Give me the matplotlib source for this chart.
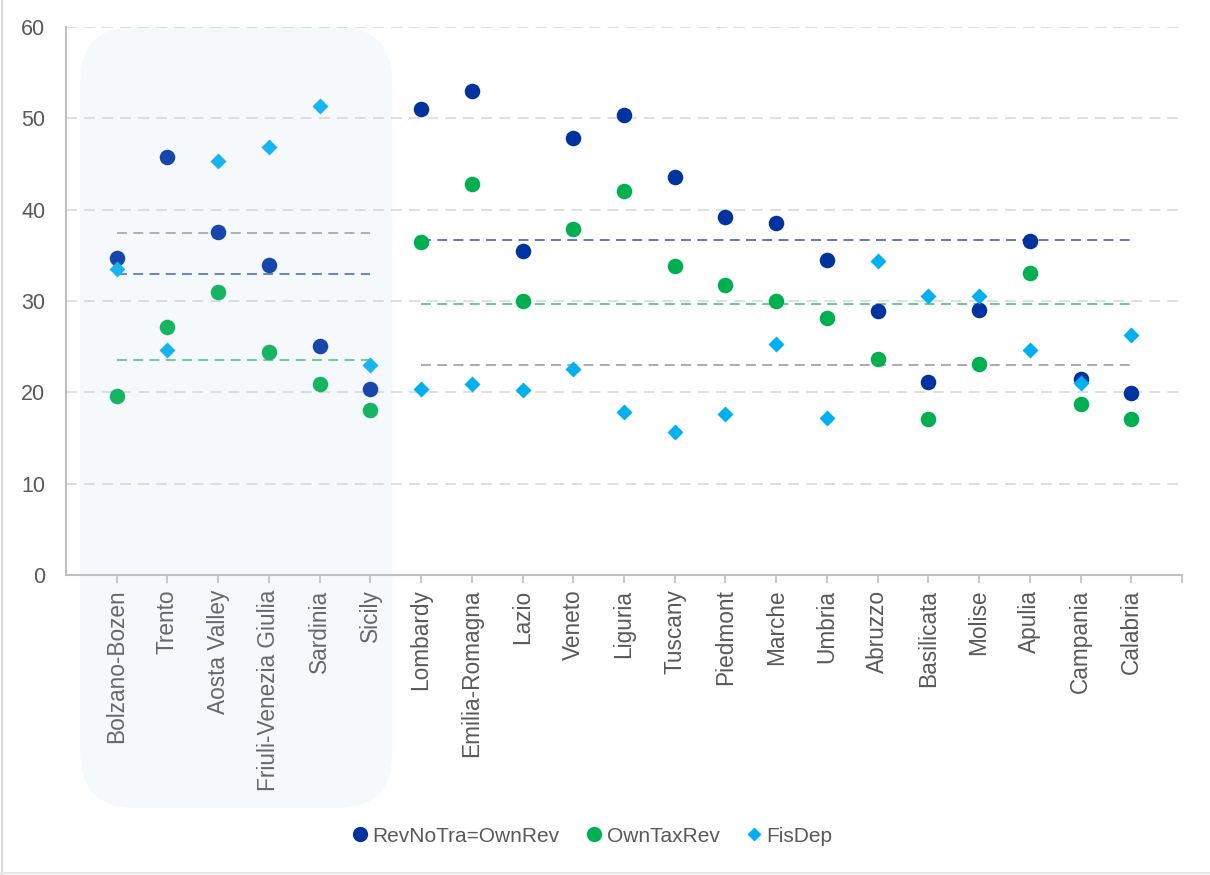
import numpy as np
import matplotlib
matplotlib.use('Agg')
import matplotlib.pyplot as plt
from matplotlib.patches import FancyBboxPatch
from matplotlib.lines import Line2D

plt.rcParams['font.family'] = ['Liberation Sans', 'DejaVu Sans']

# ── Data ──────────────────────────────────────────────────────────────────────
special_regions = ['Bolzano-Bozen', 'Trento', 'Aosta Valley',
                   'Friuli-Venezia Giulia', 'Sardinia', 'Sicily']
ordinary_regions = ['Lombardy', 'Emilia-Romagna', 'Lazio', 'Veneto', 'Liguria',
                    'Tuscany', 'Piedmont', 'Marche', 'Umbria', 'Abruzzo',
                    'Basilicata', 'Molise', 'Apulia', 'Campania', 'Calabria']

rev_no_tra_special  = [34.7, 45.8, 37.6, 33.9, 25.1, 20.4]
own_tax_special     = [19.6, 27.2, 31.0, 24.4, 20.9, 18.1]
fis_dep_special     = [33.5, 24.6, 45.3, 46.9, 51.3, 23.0]

rev_no_tra_ordinary = [51.0, 53.0, 35.5, 47.9, 50.4, 43.6, 39.2, 38.5,
                       34.5, 28.9, 21.1, 29.0, 36.6, 21.5, 19.9]
own_tax_ordinary    = [36.5, 42.8, 30.0, 37.9, 42.0, 33.8, 31.7, 30.0,
                       28.1, 23.7, 17.1, 23.1, 33.1, 18.7, 17.1]
fis_dep_ordinary    = [20.4, 20.9, 20.3, 22.6, 17.9, 15.7, 17.6, 25.3,
                       17.2, 34.4, 30.6, 30.5, 24.6, 21.0, 26.3]

regions = special_regions + ordinary_regions
rev_no_tra = rev_no_tra_special + rev_no_tra_ordinary
own_tax    = own_tax_special + own_tax_ordinary
fis_dep    = fis_dep_special + fis_dep_ordinary

# ── Style ─────────────────────────────────────────────────────────────────────
c_rev  = '#0033A0'
c_tax  = '#00B050'
c_dep  = '#00B0F0'
c_text = '#595959'
c_axis = '#BFBFBF'

fig = plt.figure(figsize=(12.1, 8.75), dpi=100)
ax = fig.add_axes([66 / 1210, 1 - 575 / 875, (1182 - 66) / 1210, (575 - 27) / 875])

x = np.arange(1, len(regions) + 1)
x_sp = x[:len(special_regions)]
x_or = x[len(special_regions):]

# group means as dashed reference lines
for xs, vals in ((x_sp, (rev_no_tra_special, own_tax_special, fis_dep_special)),
                 (x_or, (rev_no_tra_ordinary, own_tax_ordinary, fis_dep_ordinary))):
    for v, col in zip(vals, ('#4A70C8', '#55C98A', '#A5A5A5')):
        ax.plot([xs[0], xs[-1]], [np.mean(v)] * 2, color=col, lw=1.3,
                dashes=(5.5, 3.5), zorder=2)

ax.plot(x, rev_no_tra, 'o', ms=11.2, color=c_rev, mec='none', zorder=4)
ax.plot(x, own_tax, 'o', ms=11.2, color=c_tax, mec='none', zorder=3)
ax.plot(x, fis_dep, 'D', ms=7.8, color=c_dep, mec='none', zorder=5)

# ── Axes formatting ───────────────────────────────────────────────────────────
ax.set_xlim(0, len(regions) + 1)
ax.set_ylim(0, 60)
ax.set_yticks(range(0, 61, 10))
ax.set_xticks(list(x) + [len(regions) + 1])
ax.set_xticklabels(regions + [''], rotation=90, fontsize=16.3, color=c_text)
ax.tick_params(axis='x', length=6, color=c_axis, width=1.2, pad=4.5)
ax.tick_params(axis='y', length=0, labelsize=15.5, labelcolor=c_text, pad=15)
for t in ax.get_xticklabels():
    t.set_verticalalignment('top')

for y in range(10, 61, 10):
    ax.axhline(y, color='#DCDCDC', lw=1.3, dashes=(6, 4), zorder=1)

ax.spines['top'].set_visible(False)
ax.spines['right'].set_visible(False)
ax.spines['left'].set_color(c_axis)
ax.spines['bottom'].set_color(c_axis)
ax.spines['left'].set_linewidth(1.5)
ax.spines['bottom'].set_linewidth(1.5)

# ── Shaded box over the special-statute regions ───────────────────────────────
fig.canvas.draw()
bx0 = ax.transData.transform((0.28, 60))[0]
bx1 = ax.transData.transform((6.43, 60))[0]
by1 = ax.transData.transform((0, 60))[1]
by0 = 875 - 808
box = FancyBboxPatch((bx0, by0), bx1 - bx0, by1 - by0,
                     boxstyle='round,pad=0,rounding_size=55',
                     transform=None, facecolor='#B6D4EE', edgecolor='none',
                     alpha=0.13, zorder=5)
fig.add_artist(box)

# ── Legend ────────────────────────────────────────────────────────────────────
handles = [
    Line2D([], [], marker='o', ls='none', ms=11, color=c_rev, mec='none'),
    Line2D([], [], marker='o', ls='none', ms=11, color=c_tax, mec='none'),
    Line2D([], [], marker='D', ls='none', ms=7.5, color=c_dep, mec='none'),
]
fig.legend(handles, ['RevNoTra=OwnRev', 'OwnTaxRev', 'FisDep'],
           loc='center', bbox_to_anchor=(590 / 1210, 1 - 836 / 875),
           ncol=3, frameon=False, fontsize=15, labelcolor=c_text,
           handletextpad=0.0, columnspacing=1.05, handlelength=1.2)

# ── Frame edges ───────────────────────────────────────────────────────────────
fig.add_artist(Line2D([2 / 1210, 2 / 1210], [0, 1], color='#D9D9D9', lw=1.5,
                      transform=fig.transFigure))
fig.add_artist(Line2D([0, 1], [2 / 875, 2 / 875], color='#E6E6E6', lw=1.5,
                      transform=fig.transFigure))

fig.savefig('out.png', dpi=100)
